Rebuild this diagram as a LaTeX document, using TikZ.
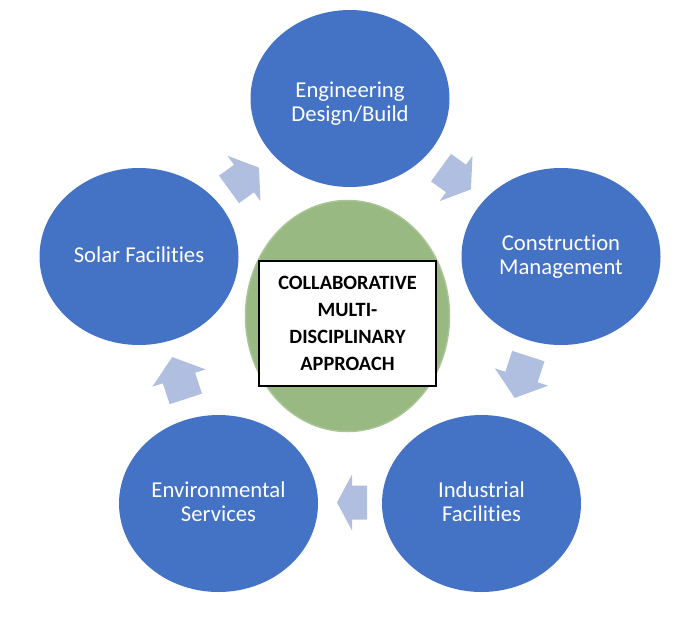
\documentclass[tikz,border=0pt]{standalone}
\usepackage{fontspec}
\setmainfont{Carlito}[Ligatures=NoCommon]
\usetikzlibrary{shapes.geometric}
\definecolor{nodeblue}{HTML}{4472C4}
\definecolor{centergreen}{HTML}{98B982}
\definecolor{greenedge}{HTML}{A9C596}
\definecolor{arrowblue}{HTML}{B0BEDF}
\newcommand{\blockarrow}[5]{%
  \fill[arrowblue, shift={(#1,#2)}, rotate=#3]
    (-#4/2,-17) -- (0,-17) -- (0,-28) -- (#4/2,0) -- (0,28) -- (0,17) -- (-#4/2,17) -- cycle;
  \coordinate (#5) at (#1,#2);}
\begin{document}
\begin{tikzpicture}[x=1pt,y=-1pt,
  bluenode/.style={ellipse, fill=nodeblue, minimum width=199pt, minimum height=177pt,
    inner sep=0pt},
  lbl/.style={anchor=base, inner sep=0pt, text=white, font=\fontsize{22.7}{24}\selectfont},
  centerellipse/.style={ellipse, fill=centergreen, draw=greenedge, line width=1.5pt,
    minimum width=204pt, minimum height=231pt, inner sep=0pt},
  textbox/.style={draw=black, fill=white, line width=1.2pt, minimum width=177pt,
    minimum height=125pt, inner sep=0pt, align=center,
    font=\fontsize{20.3}{26.8}\selectfont\bfseries}]
\useasboundingbox (0,0) rectangle (691,622);
\node[bluenode] (eng) at (350,98.5) {};
\node[bluenode] (con) at (561,256.5) {};
\node[bluenode] (ind) at (481.5,503.5) {};
\node[bluenode] (env) at (218.5,503.5) {};
\node[bluenode] (sol) at (139,256.5) {};
\node[lbl] (eng1) at (350,97.5) {Engineering};
\node[lbl] (eng2) at (350,121.3) {Design/Build};
\node[lbl] (con1) at (561,250.5) {Construction};
\node[lbl] (con2) at (561,274.5) {Management};
\node[lbl] (ind1) at (481.5,497.5) {Industrial};
\node[lbl] (ind2) at (481.5,521.7) {Facilities};
\node[lbl] (env1) at (218.5,497.5) {Environmental};
\node[lbl] (env2) at (218.5,521.7) {Services};
\node[lbl] (sol1) at (139,262.3) {Solar Facilities};
\node[centerellipse] (ctr) at (347.5,316) {};
\node[textbox] (box) at (347.5,323.5) {COLLABORATIVE\\MULTI-\\DISCIPLINARY\\APPROACH};
\blockarrow{244}{178.5}{36}{37}{a1}
\blockarrow{456}{178.5}{-36}{37}{a2}
\blockarrow{521.5}{377}{-108}{44}{a3}
\blockarrow{179}{378}{108}{44}{a4}
\blockarrow{352}{502.5}{180}{30}{a5}
\end{tikzpicture}
\end{document}
